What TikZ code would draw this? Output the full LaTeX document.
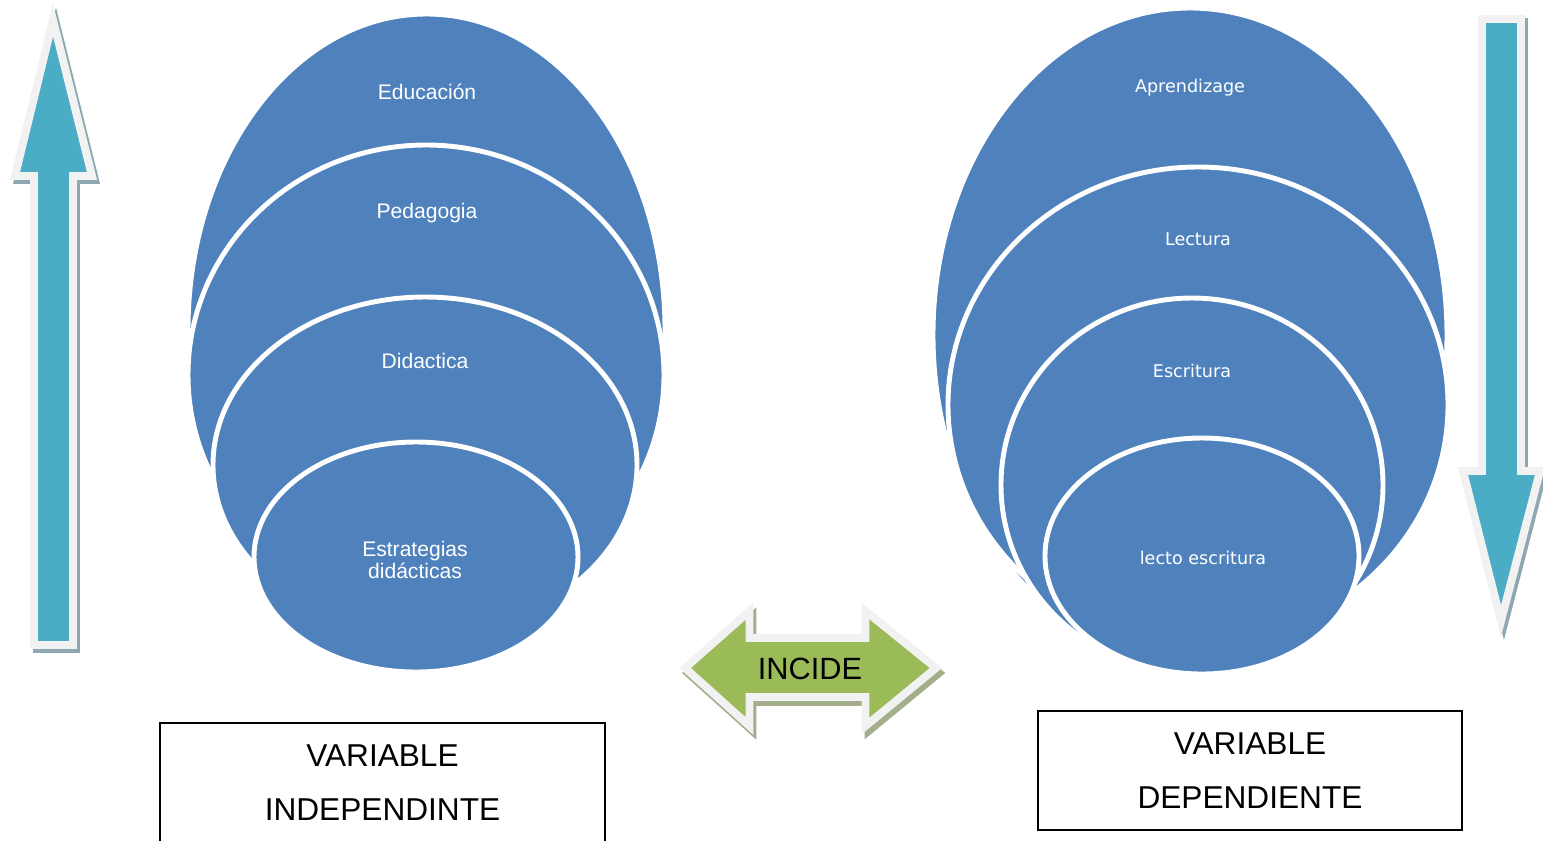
\documentclass[tikz,border=0pt]{standalone}
\usepackage{fontspec}
\setmainfont{Liberation Sans}
\newfontfamily\rightfont{DejaVu Sans}
\usetikzlibrary{positioning}

\definecolor{setblue}{HTML}{4F81BD}
\definecolor{arrowteal}{HTML}{4BACC6}
\definecolor{arrowgreen}{HTML}{9BBB59}
\definecolor{rimgray}{HTML}{F2F2F2}
\definecolor{tealshadow}{HTML}{8DA8B0}
\definecolor{greenshadow}{HTML}{A3AE8A}

\tikzset{
  layer/.style={fill=setblue, draw=white, line width=2.8pt},
  leftlabel/.style={text=white, align=center, font=\fontsize{12}{12.5}\selectfont},
  rightlabel/.style={text=white, font=\rightfont\fontsize{10}{12}\selectfont},
  bigarrow/.style={fill=#1, draw=rimgray, line width=4.5pt, line join=miter},
  arrowshadow/.style={fill=#1, draw=#1, line width=4.5pt, line join=miter},
  varbox/.style={draw, line width=0.85pt, minimum height=2.38cm, align=center,
    font=\fontsize{18}{31}\selectfont}
}

\newcommand{\uppath}{(34,645) -- (34,176) -- (15,176) -- (53,20) -- (92,176) -- (73,176) -- (73,645) -- cycle}
\newcommand{\downpath}{(1482,19) -- (1521,19) -- (1521,471) -- (1540,471) -- (1501,621) -- (1463,471) -- (1482,471) -- cycle}
\newcommand{\bothpath}{(685,668) -- (749.5,611) -- (749.5,638) -- (865.5,638) -- (865.5,611) -- (936,668) -- (865.5,726) -- (865.5,697) -- (749.5,697) -- (749.5,726) -- cycle}

\begin{document}
\begin{tikzpicture}[x=0.02cm, y=-0.02cm]
    \useasboundingbox (0,0) rectangle (1543,840);

    % Up arrow
    \filldraw[arrowshadow=tealshadow, shift={(3,4)}] \uppath;
    \filldraw[bigarrow=arrowteal] \uppath;

    % Down arrow
    \filldraw[arrowshadow=tealshadow, shift={(3,3)}] \downpath;
    \filldraw[bigarrow=arrowteal] \downpath;

    % Independent variable stack
    \draw[layer] (426.5,330) ellipse (238.5 and 316);
    \draw[layer] (426,375) ellipse (238 and 230);
    \draw[layer] (425,465) ellipse (212 and 168);
    \draw[layer] (416,557) ellipse (162 and 115);
    \node[leftlabel] (educacion) at (427,92) {Educación};
    \node[leftlabel] (pedagogia) at (427,213) {Pedagogia};
    \node[leftlabel] (didactica) at (425,361) {Didactica};
    \node[leftlabel] (estrategias) at (415,560) {Estrategias\\didácticas};

    % Dependent variable stack
    \draw[layer] (1190,335) ellipse (257 and 327);
    \draw[layer] (1198,405) ellipse (250 and 238);
    \draw[layer] (1192,485) ellipse (191 and 187);
    \draw[layer] (1202,556) ellipse (157 and 118);
    \node[rightlabel] (aprendizage) at (1190,88) {Aprendizage};
    \node[rightlabel] (lectura) at (1198,239) {Lectura};
    \node[rightlabel] (escritura) at (1192,371) {Escritura};
    \node[rightlabel] (lectoescritura) at (1203,558) {lecto escritura};

    % Double arrow
    \filldraw[arrowshadow=greenshadow, shift={(3,5)}] \bothpath;
    \filldraw[bigarrow=arrowgreen] \bothpath;
    \node[font=\fontsize{17.5}{20}\selectfont] (incide) at (810,669) {INCIDE};

    % Variable boxes
    \node[varbox, minimum width=8.9cm] (independiente) at (382.5,782.5) {VARIABLE\\INDEPENDINTE};
    \node[varbox, minimum width=8.48cm] (dependiente) at (1250,770.5) {VARIABLE\\DEPENDIENTE};
\end{tikzpicture}
\end{document}
